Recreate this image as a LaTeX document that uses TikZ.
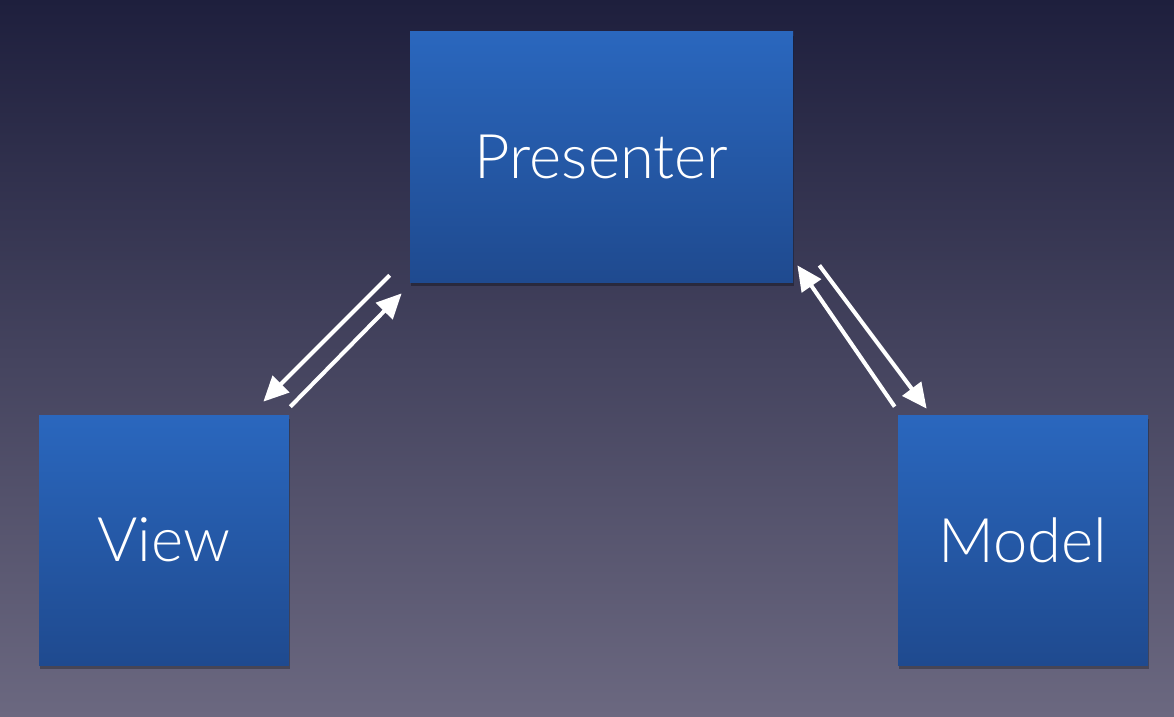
\documentclass[tikz,border=0pt]{standalone}
\usepackage{fontspec}
\setmainfont{Lato}[UprightFont=* Light]
\usepackage{tikz}
\usetikzlibrary{arrows.meta, shadows}
\definecolor{bgtop}{RGB}{30,31,61}
\definecolor{bgbot}{RGB}{107,104,128}
\definecolor{boxtop}{RGB}{42,103,190}
\definecolor{boxbot}{RGB}{31,74,143}
\tikzstyle{box} = [rectangle, minimum width=5cm, minimum height=5cm, text centered, text=white, font=\fontsize{35}{40}\selectfont, top color=boxtop, bottom color=boxbot, drop shadow={fill=black, opacity=0.3, shadow xshift=0.02cm, shadow yshift=-0.08cm}]
\tikzstyle{arrow} = [white, line width=2.3pt, -{Triangle[length=0.5cm, width=0.46cm]}]

\begin{document}
\begin{tikzpicture}
      \shade [top color=bgtop, bottom color=bgbot] (0,0) rectangle (23.48,-14.32);
      \node (pres) [box, minimum width=7.66cm] at (12.03,-3.14) {Presenter};
      \node (view) [box] at (3.28,-10.8) {View};
      \node (model) [box] at (20.46,-10.8) {Model};
      \draw [arrow] ([xshift=-0.40cm, yshift=0.14cm]pres.south west) -- ([xshift=-0.52cm, yshift=0.26cm]view.north east);
      \draw [arrow] ([xshift=0.02cm, yshift=0.16cm]view.north east) -- ([xshift=-0.16cm, yshift=-0.22cm]pres.south west);
      \draw [arrow] ([xshift=-0.06cm, yshift=0.16cm]model.north west) -- ([xshift=0.08cm, yshift=0.34cm]pres.south east);
      \draw [arrow] ([xshift=0.52cm, yshift=0.34cm]pres.south east) -- ([xshift=0.58cm, yshift=0.12cm]model.north west);
    \end{tikzpicture}
\end{document}
